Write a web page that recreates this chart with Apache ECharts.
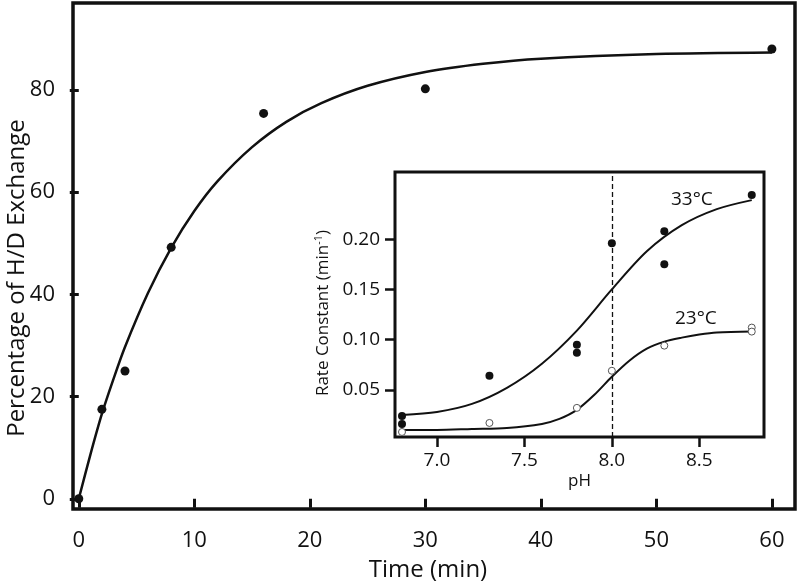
<!DOCTYPE html>
<html>
<head>
<meta charset="utf-8">
<script src="https://cdn.jsdelivr.net/npm/echarts@6/dist/echarts.min.js"></script>
<style>
html,body{margin:0;padding:0;background:#fff;}
#c{width:800px;height:584px;}
</style>
</head>
<body>
<div id="c"></div>
<script>
// ---- Main panel data ----
const mainTime = [0, 2, 4, 8, 16, 30, 60];
const mainPct = [0, 17.5, 25.0, 49.2, 75.4, 80.2, 88.0];
const fitTime = [0, 1, 2, 3, 4, 6, 8, 10, 12, 15, 18, 21, 25, 30, 35, 40, 50, 60];
const fitPct = [0, 8.6, 16.6, 23.4, 29.7, 40.3, 49.1, 56.3, 62.1, 68.8, 73.8, 77.4, 80.8, 83.5, 85.1, 86.1, 87.0, 87.3];
const mainXTicks = [0, 10, 20, 30, 40, 50, 60];
const mainYTicks = [0, 20, 40, 60, 80];

// ---- Inset data ----
const ph33 = [6.8, 6.8, 7.3, 7.8, 7.8, 8.0, 8.3, 8.3, 8.8];
const k33 = [0.024, 0.016, 0.064, 0.095, 0.087, 0.196, 0.208, 0.175, 0.244];
const ph23 = [6.8, 7.3, 7.8, 8.0, 8.3, 8.8, 8.8];
const k23 = [0.008, 0.017, 0.032, 0.069, 0.094, 0.112, 0.108];
const fit33pH = [6.8, 7.0, 7.2, 7.4, 7.6, 7.8, 8.0, 8.2, 8.4, 8.6, 8.8];
const fit33k = [0.025, 0.028, 0.036, 0.052, 0.076, 0.109, 0.150, 0.188, 0.214, 0.230, 0.239];
const fit23pH = [6.8, 7.0, 7.2, 7.4, 7.6, 7.7, 7.8, 7.9, 8.0, 8.1, 8.2, 8.3, 8.4, 8.5, 8.6, 8.8];
const fit23k = [0.010, 0.010, 0.011, 0.012, 0.016, 0.021, 0.030, 0.045, 0.063, 0.079, 0.091, 0.098, 0.102, 0.105, 0.107, 0.108];
const insetXTicks = [7.0, 7.5, 8.0, 8.5];
const insetYTicks = [0.05, 0.10, 0.15, 0.20];
const dashedPH = 8.0;
const label33 = '33°C';
const label23 = '23°C';

const zip = (a, b) => a.map((v, i) => [v, b[i]]);
const FONT = 'Open Sans';

const chart = echarts.init(document.getElementById('c'), null, {renderer: 'canvas'});
chart.setOption({
  animation: false,
  backgroundColor: '#fff',
  textStyle: {fontFamily: FONT, color: '#111'},
  grid: [
    {left: 73, top: 3, right: 5, bottom: 75, show: true, borderColor: '#111', borderWidth: 3.5, backgroundColor: 'transparent',
      containLabel: false, outerBoundsMode: 'none'},
    {left: 395, top: 172, width: 369, height: 265, show: true, borderColor: '#111', borderWidth: 3, backgroundColor: '#fff',
      containLabel: false, outerBoundsMode: 'none'}
  ],
  xAxis: [
    {
      type: 'value', gridIndex: 0, min: -0.5, max: 62,
      name: 'Time (min)', nameLocation: 'middle', nameGap: 49, nameMoveOverlap: false,
      nameTextStyle: {fontSize: 24, fontFamily: FONT, color: '#111', padding: [0, 12, 0, 0]},
      axisLine: {show: false},
      axisTick: {show: true, inside: false, length: 9, lineStyle: {color: '#111', width: 3}, customValues: mainXTicks},
      axisLabel: {show: true, margin: 21, fontSize: 22, fontFamily: FONT, color: '#111', customValues: mainXTicks},
      splitLine: {show: false}
    },
    {
      type: 'value', gridIndex: 1, min: 6.76, max: 8.87,
      name: 'pH', nameLocation: 'middle', nameGap: 36, nameMoveOverlap: false,
      nameTextStyle: {fontSize: 17, fontFamily: FONT, color: '#111'},
      axisLine: {show: false},
      axisTick: {show: true, inside: false, length: 10, lineStyle: {color: '#111', width: 2.5}, customValues: insetXTicks},
      axisLabel: {show: true, margin: 14, fontSize: 19, fontFamily: FONT, color: '#111', customValues: insetXTicks,
        formatter: v => v.toFixed(1)},
      splitLine: {show: false}
    }
  ],
  yAxis: [
    {
      type: 'value', gridIndex: 0, min: -2, max: 97,
      name: 'Percentage of H/D Exchange', nameLocation: 'middle', nameGap: 44, nameMoveOverlap: false,
      nameTextStyle: {fontSize: 24, fontFamily: FONT, color: '#111', padding: [0, 44, 0, 0]},
      axisLine: {show: false},
      axisTick: {show: true, inside: false, length: 9, lineStyle: {color: '#111', width: 3}, customValues: mainYTicks},
      axisLabel: {show: true, margin: 18, fontSize: 22, fontFamily: FONT, color: '#111', customValues: mainYTicks},
      splitLine: {show: false}
    },
    {
      type: 'value', gridIndex: 1, min: 0.003, max: 0.267,
      name: 'Rate Constant (min{sup|-1})', nameLocation: 'middle', nameGap: 62, nameMoveOverlap: false,
      nameTextStyle: {fontSize: 17, fontFamily: FONT, color: '#111', padding: [0, 17, 0, 0],
        rich: {sup: {fontSize: 11, fontFamily: FONT, color: '#111', verticalAlign: 'top', lineHeight: 20}}},
      axisLine: {show: false},
      axisTick: {show: true, inside: false, length: 10, lineStyle: {color: '#111', width: 2.5}, customValues: insetYTicks},
      axisLabel: {show: true, margin: 15, fontSize: 19, fontFamily: FONT, color: '#111', customValues: insetYTicks,
        formatter: v => v.toFixed(2)},
      splitLine: {show: false}
    }
  ],
  series: [
    {
      type: 'line', xAxisIndex: 0, yAxisIndex: 0, data: zip(fitTime, fitPct),
      smooth: 0.3, showSymbol: false, symbol: 'none',
      lineStyle: {color: '#111', width: 2.5}, z: 3
    },
    {
      type: 'scatter', xAxisIndex: 0, yAxisIndex: 0, data: zip(mainTime, mainPct),
      symbol: 'circle', symbolSize: 9, itemStyle: {color: '#111', opacity: 1}, z: 4
    },
    {
      type: 'line', xAxisIndex: 1, yAxisIndex: 1, data: zip(fit33pH, fit33k),
      smooth: 0.3, showSymbol: false, symbol: 'none',
      lineStyle: {color: '#111', width: 2}, z: 6,
      markLine: {
        silent: true, symbol: 'none', animation: false,
        label: {show: false},
        lineStyle: {color: '#111', width: 1.3, type: [5, 3]},
        data: [{xAxis: dashedPH}]
      }
    },
    {
      type: 'line', xAxisIndex: 1, yAxisIndex: 1, data: zip(fit23pH, fit23k),
      smooth: 0.3, showSymbol: false, symbol: 'none',
      lineStyle: {color: '#111', width: 2}, z: 6
    },
    {
      type: 'scatter', xAxisIndex: 1, yAxisIndex: 1, data: zip(ph33, k33),
      symbol: 'circle', symbolSize: 8, itemStyle: {color: '#111', opacity: 1}, z: 7
    },
    {
      type: 'scatter', xAxisIndex: 1, yAxisIndex: 1, data: zip(ph23, k23),
      symbol: 'circle', symbolSize: 7, itemStyle: {color: '#fff', borderColor: '#555', borderWidth: 1, opacity: 1}, z: 7
    }
  ],
  graphic: [
    {type: 'text', left: 671, top: 190, z: 20, style: {text: label33, fontSize: 19, fontFamily: FONT, fill: '#111'}},
    {type: 'text', left: 675, top: 309, z: 20, style: {text: label23, fontSize: 19, fontFamily: FONT, fill: '#111'}}
  ]
});
</script>
</body>
</html>
